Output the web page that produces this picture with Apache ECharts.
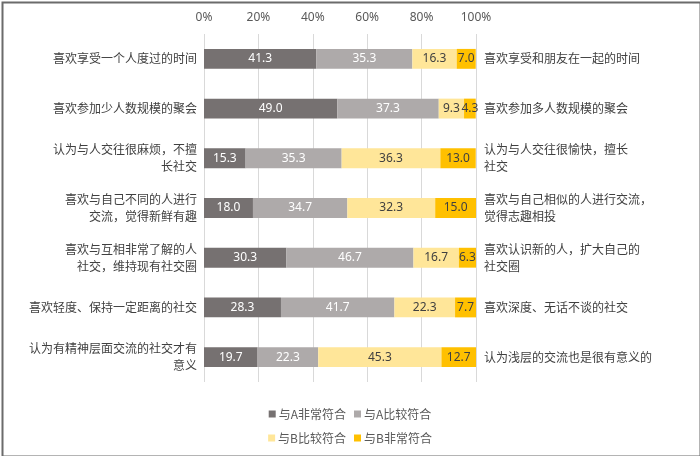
<!DOCTYPE html>
<html><head><meta charset="utf-8">
<script src="https://cdn.jsdelivr.net/npm/echarts@6/dist/echarts.min.js"></script>
<style>html,body{margin:0;padding:0;background:#fff}#c{width:700px;height:456px}</style>
</head><body><div id="c"></div>
<script>
const leftCats = ['喜欢享受一个人度过的时间','喜欢参加少人数规模的聚会','认为与人交往很麻烦，不擅\n长社交','喜欢与自己不同的人进行\n交流，觉得新鲜有趣','喜欢与互相非常了解的人\n社交，维持现有社交圈','喜欢轻度、保持一定距离的社交','认为有精神层面交流的社交才有\n意义'];
const rightCats = ['喜欢享受和朋友在一起的时间','喜欢参加多人数规模的聚会','认为与人交往很愉快，擅长\n社交','喜欢与自己相似的人进行交流，\n觉得志趣相投','喜欢认识新的人，扩大自己的\n社交圈','喜欢深度、无话不谈的社交','认为浅层的交流也是很有意义的'];
const seriesNames = ['与A非常符合','与A比较符合','与B比较符合','与B非常符合'];
const aStrong = [41.3, 49.0, 15.3, 18.0, 30.3, 28.3, 19.7];
const aSome   = [35.3, 37.3, 35.3, 34.7, 46.7, 41.7, 22.3];
const bSome   = [16.3, 9.3, 36.3, 32.3, 16.7, 22.3, 45.3];
const bStrong = [7.0, 4.3, 13.0, 15.0, 6.3, 7.7, 12.7];
const xTicks = [0, 20, 40, 60, 80, 100];

const colors = ['#767171','#AEAAAA','#FFE699','#FFC000'];
const labelColors = ['#ffffff','#ffffff','#404040','#404040'];
const values = [aStrong, aSome, bSome, bStrong];
const chart = echarts.init(document.getElementById('c'));
const font = "'Noto Sans CJK SC','Noto Sans',sans-serif";
chart.setOption({
  animation: false,
  textStyle: {fontFamily: font},
  graphic: [{type:'rect', left:0, top:0, shape:{x:1,y:1,width:698,height:454}, style:{fill:'none', stroke:'#6b6b6b', lineWidth:2}, silent:true}],
  grid: {left: 204, right: 224, top: 34, bottom: 74},
  xAxis: {
    type: 'value', position: 'top', min: xTicks[0], max: xTicks[xTicks.length-1], interval: 20,
    axisLine: {show:false}, axisTick: {show:false},
    axisLabel: {formatter: '{value}%', color:'#595959', fontSize:12, margin:10, fontFamily:"'Noto Sans',sans-serif"},
    splitLine: {lineStyle:{color:'#D9D9D9', width:1}}
  },
  yAxis: [
    {type:'category', data:leftCats, inverse:true, position:'left',
     axisLine:{show:false}, axisTick:{show:false},
     axisLabel:{color:'#404040', fontSize:12, margin:7, lineHeight:17, align:'right'}},
    {type:'category', data:rightCats, inverse:true, position:'right',
     axisLine:{show:false}, axisTick:{show:false},
     axisLabel:{color:'#404040', fontSize:12, margin:8, lineHeight:17, align:'left'}}
  ],
  legend: [
    {data:[seriesNames[0], seriesNames[1]], top:403, left:'center', itemWidth:7, itemHeight:7, itemGap:8, icon:'rect',
     textStyle:{color:'#595959', fontSize:12, padding:[0,0,0,-2]}},
    {data:[seriesNames[2], seriesNames[3]], top:427, left:'center', itemWidth:7, itemHeight:7, itemGap:8, icon:'rect',
     textStyle:{color:'#595959', fontSize:12, padding:[0,0,0,-2]}}
  ],
  series: seriesNames.map((n,i)=>({
    name:n, type:'bar', stack:'s', yAxisIndex:0, data: values[i],
    barCategoryGap:'60%',
    itemStyle:{color:colors[i]},
    label:{show:true, position:'inside', color:labelColors[i], fontSize:12, fontFamily:"'Noto Sans',sans-serif",
      formatter:p=>p.value.toFixed(1)}
  }))
});
</script></body></html>
